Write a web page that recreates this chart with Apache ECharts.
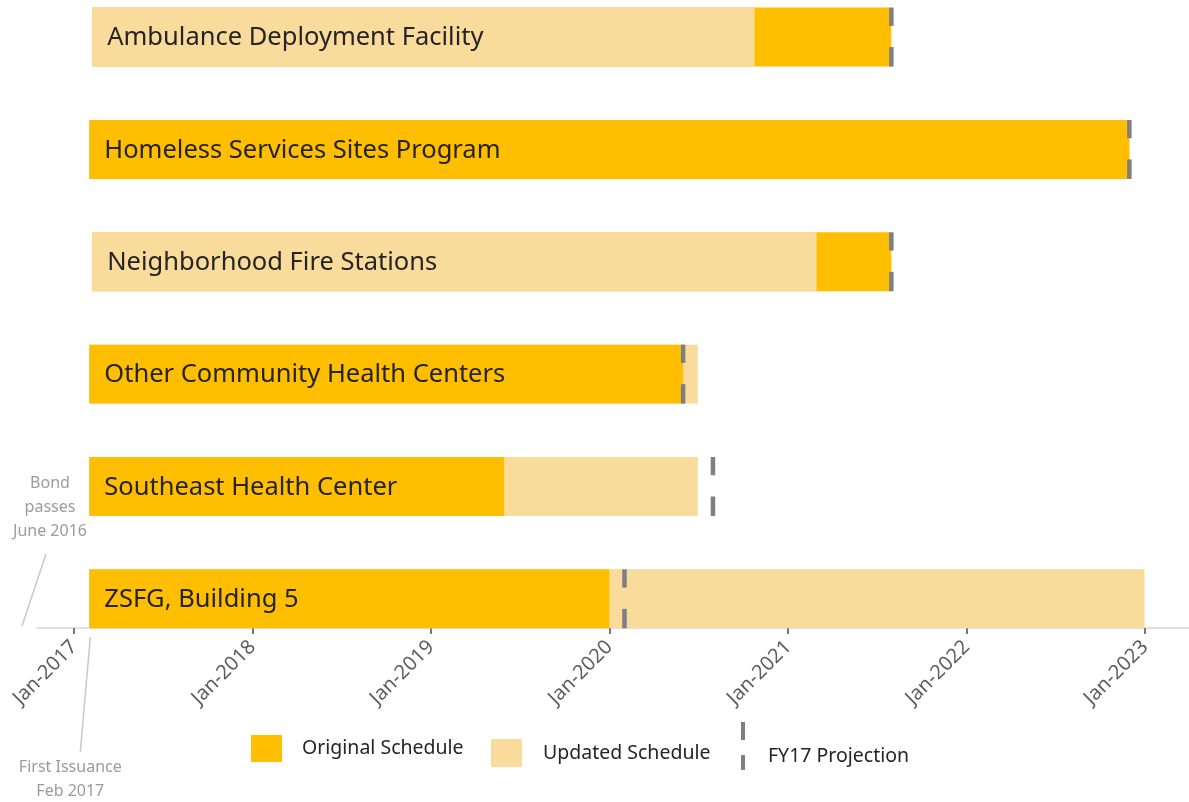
<!DOCTYPE html>
<html>
<head>
<meta charset="utf-8">
<script src="https://cdn.jsdelivr.net/npm/echarts@6/dist/echarts.min.js"></script>
<style>
  html, body { margin: 0; padding: 0; background: #ffffff; }
  #main { width: 1189px; height: 802px; }
</style>
</head>
<body>
<div id="main"></div>
<script>
// Bond program projects, top to bottom
const projects = [
  'Ambulance Deployment Facility',
  'Homeless Services Sites Program',
  'Neighborhood Fire Stations',
  'Other Community Health Centers',
  'Southeast Health Center',
  'ZSFG, Building 5'
];
const originalStart = ['2017-02-07', '2017-02-01', '2017-02-07', '2017-02-01', '2017-02-01', '2017-02-01'];
const originalEnd   = ['2021-07-31', '2022-11-30', '2021-07-31', '2020-05-31', '2019-05-31', '2020-01-01'];
const updatedStart  = ['2017-02-07', '2017-02-01', '2017-02-07', '2017-02-01', '2017-02-01', '2017-02-01'];
const updatedEnd    = ['2020-10-24', '2022-11-30', '2021-02-28', '2020-06-30', '2020-06-30', '2022-12-31'];
const fy17Projection = ['2021-07-31', '2022-11-30', '2021-07-31', '2020-05-31', '2020-07-31', '2020-02-01'];
const axisMin = '2016-10-17';
const axisMax = '2023-04-01';
const firstIssuance = '2017-02-01';

const ORIGINAL = '#FFBE00';
const UPDATED = '#F9DB9C';
const PROJECTION = '#7F7F7F';
const FONT = '"Noto Sans", "Open Sans", sans-serif';

const ts = s => new Date(s + 'T00:00:00').getTime();
const BAR_RATIO = 0.525;

// The shorter of the two schedules is drawn on top of the longer one
const origLen = projects.map((_, i) => ts(originalEnd[i]) - ts(originalStart[i]));
const updLen = projects.map((_, i) => ts(updatedEnd[i]) - ts(updatedStart[i]));

function scheduleSeries(name, starts, ends, color, onTop) {
  return {
    type: 'custom',
    name: name,
    itemStyle: { color: color },
    encode: { x: [0, 1], y: 2 },
    data: projects.map((_, i) => [ts(starts[i]), ts(ends[i]), i]),
    renderItem: function (params, api) {
      const i = api.value(2);
      const a = api.coord([api.value(0), i]);
      const b = api.coord([api.value(1), i]);
      const h = api.size([0, 1])[1] * BAR_RATIO;
      return {
        type: 'rect',
        z2: onTop(i) ? 2 : 1,
        shape: { x: a[0], y: a[1] - h / 2, width: b[0] - a[0], height: h },
        style: { fill: color }
      };
    }
  };
}

const legendText = { fontFamily: FONT, fontSize: 19.5, color: '#252423' };

const option = {
  animation: false,
  backgroundColor: '#ffffff',
  grid: { left: 37, right: 0, top: 0, bottom: 147 },
  xAxis: {
    type: 'time',
    min: ts(axisMin),
    max: ts(axisMax),
    offset: -27,
    splitNumber: 7,
    axisLine: { show: true, onZero: false, lineStyle: { color: '#E1E1E1', width: 2 } },
    axisTick: { show: true, length: 6, lineStyle: { color: '#777777', width: 2 } },
    splitLine: { show: false },
    axisLabel: {
      rotate: 45,
      margin: 16,
      fontFamily: FONT,
      fontSize: 20,
      color: '#605E5C',
      formatter: function (val) {
        const d = new Date(val);
        return (d.getMonth() === 0 && d.getDate() === 1) ? 'Jan-' + d.getFullYear() : '';
      }
    }
  },
  // Row index axis: one unit per project, first row at the top
  yAxis: {
    type: 'value',
    inverse: true,
    min: -0.33,
    max: 5.5,
    axisLine: { show: false },
    axisTick: { show: false },
    axisLabel: { show: false },
    splitLine: { show: false }
  },
  legend: [
    {
      data: [{ name: 'Original Schedule', icon: 'rect', itemStyle: { color: ORIGINAL } }],
      left: 251, top: 735, itemWidth: 31, itemHeight: 27, padding: 0,
      selectedMode: false,
      textStyle: Object.assign({ padding: [0, 0, 0, 15] }, legendText)
    },
    {
      data: [{ name: 'Updated Schedule', icon: 'rect', itemStyle: { color: UPDATED } }],
      left: 491, top: 739, itemWidth: 31, itemHeight: 28, padding: 0,
      selectedMode: false,
      textStyle: Object.assign({ padding: [0, 0, 0, 16] }, legendText)
    },
    {
      data: [{ name: 'FY17 Projection', icon: 'path://M0,0h4v18h-4zM0,33h4v15h-4zM2,68h0.01v0.01h-0.01z', itemStyle: { color: PROJECTION } }],
      left: 741, top: 722, itemWidth: 4, itemHeight: 68, padding: 0,
      selectedMode: false,
      textStyle: Object.assign({ padding: [0, 0, 0, 18] }, legendText)
    }
  ],
  series: [
    scheduleSeries('Original Schedule', originalStart, originalEnd, ORIGINAL, i => origLen[i] <= updLen[i]),
    scheduleSeries('Updated Schedule', updatedStart, updatedEnd, UPDATED, i => updLen[i] < origLen[i]),
    {
      // FY17 projection: a broken vertical tick across each bar
      type: 'custom',
      name: 'FY17 Projection',
      itemStyle: { color: PROJECTION },
      encode: { x: 0, y: 1 },
      data: projects.map((_, i) => [ts(fy17Projection[i]), i]),
      renderItem: function (params, api) {
        const i = api.value(1);
        const c = api.coord([api.value(0), i]);
        const h = api.size([0, 1])[1] * BAR_RATIO;
        const top = c[1] - h / 2;
        const w = 4.5;
        return {
          type: 'group',
          children: [
            { type: 'rect', z2: 4, shape: { x: c[0] - w / 2, y: top, width: w, height: h * 0.31 }, style: { fill: PROJECTION } },
            { type: 'rect', z2: 4, shape: { x: c[0] - w / 2, y: top + h * 0.67, width: w, height: h * 0.33 }, style: { fill: PROJECTION } }
          ]
        };
      }
    },
    {
      // Project names written inside the start of each bar
      type: 'custom',
      name: 'Projects',
      encode: { x: 0, y: 1 },
      data: projects.map((_, i) => [Math.max(ts(originalStart[i]), ts(updatedStart[i])), i]),
      renderItem: function (params, api) {
        const i = api.value(1);
        const c = api.coord([api.value(0), i]);
        return {
          type: 'text',
          z2: 5,
          x: c[0] + 15,
          y: c[1] + 1,
          style: {
            text: projects[i],
            fill: '#252423',
            font: '25.5px ' + FONT,
            align: 'left',
            verticalAlign: 'middle'
          }
        };
      }
    }
  ]
};

const chart = echarts.init(document.getElementById('main'), null, { renderer: 'canvas' });
chart.setOption(option);

// Notes below and beside the axis
const issueX = chart.convertToPixel({ xAxisIndex: 0 }, ts(firstIssuance));
const gridLeft = option.grid.left;
const noteStyle = { fill: '#9B9B9B', font: '16px ' + FONT, align: 'center', verticalAlign: 'middle', lineHeight: 24 };
chart.setOption({
  graphic: [
    { type: 'line', shape: { x1: issueX + 1, y1: 637, x2: issueX - 9, y2: 752 }, style: { stroke: '#C8C8C8', lineWidth: 1.5 } },
    { type: 'text', x: issueX - 19, y: 779, style: Object.assign({ text: 'First Issuance\nFeb 2017' }, noteStyle) },
    { type: 'line', shape: { x1: gridLeft + 9, y1: 554, x2: gridLeft - 15, y2: 626 }, style: { stroke: '#C8C8C8', lineWidth: 1.5 } },
    { type: 'text', x: gridLeft + 13, y: 507, style: Object.assign({ text: 'Bond\npasses\nJune 2016' }, noteStyle) }
  ]
});
</script>
</body>
</html>
